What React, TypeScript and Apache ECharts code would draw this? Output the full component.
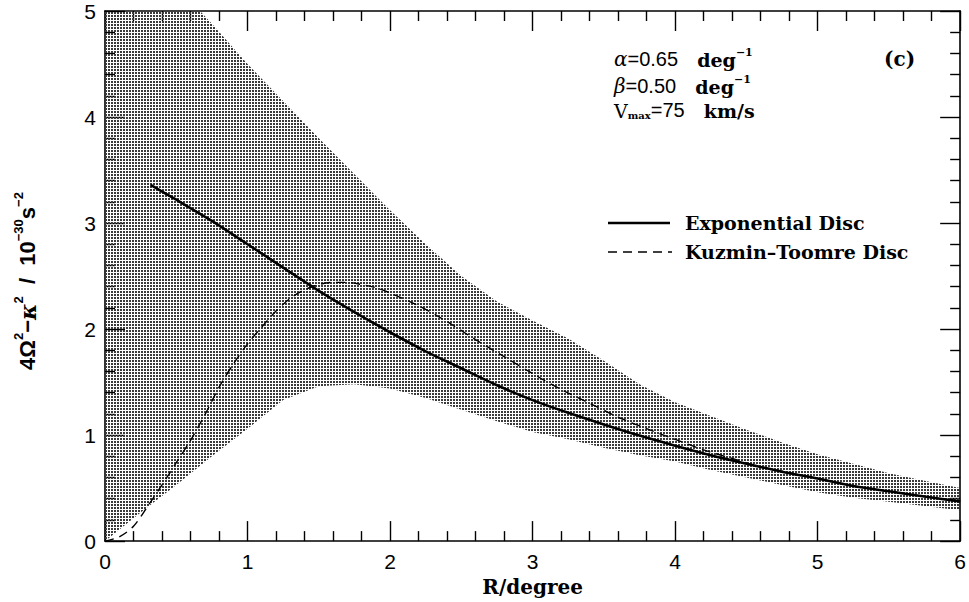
import React, { useEffect, useRef } from "react";
import * as echarts from "echarts";

// ---- data ----
const xTicks = [0, 1, 2, 3, 4, 5, 6];
const yTicks = [0, 1, 2, 3, 4, 5];

const bandX = [0, 0.25, 0.5, 0.75, 1.0, 1.25, 1.5, 1.75, 2.0, 2.25, 2.5, 2.75, 3.0, 3.25, 3.5, 3.75, 4.0, 4.25, 4.5, 4.75, 5.0, 5.25, 5.5, 5.75, 6.0];
const bandUpper = [5.95, 5.6, 5.24, 4.88, 4.5, 4.15, 3.8, 3.46, 3.12, 2.8, 2.5, 2.26, 2.08, 1.91, 1.7, 1.48, 1.31, 1.18, 1.05, 0.93, 0.82, 0.73, 0.64, 0.57, 0.5];
const bandLower = [0, 0.27, 0.53, 0.8, 1.06, 1.33, 1.46, 1.48, 1.44, 1.35, 1.24, 1.13, 1.03, 0.96, 0.88, 0.81, 0.75, 0.67, 0.6, 0.53, 0.46, 0.41, 0.37, 0.33, 0.29];

const expX = [0.32, 0.5, 0.75, 1.0, 1.25, 1.5, 1.75, 2.0, 2.25, 2.5, 2.75, 3.0, 3.25, 3.5, 3.75, 4.0, 4.25, 4.5, 4.75, 5.0, 5.25, 5.5, 5.75, 6.0];
const expY = [3.36, 3.22, 3.02, 2.8, 2.58, 2.36, 2.16, 1.97, 1.79, 1.63, 1.47, 1.33, 1.21, 1.1, 0.995, 0.9, 0.81, 0.73, 0.655, 0.59, 0.52, 0.47, 0.42, 0.375];

const kuzX = [0, 0.1, 0.2, 0.3, 0.4, 0.5, 0.6, 0.7, 0.8, 0.9, 1.0, 1.1, 1.2, 1.3, 1.4, 1.5, 1.6, 1.7, 1.8, 1.9, 2.0, 2.2, 2.4, 2.6, 2.8, 3.0, 3.2, 3.4, 3.6, 3.8, 4.0, 4.2, 4.4, 4.6, 4.8, 5.0, 5.25, 5.5, 5.75, 6.0];
const kuzY = [0.0, 0.04, 0.14, 0.33, 0.53, 0.74, 0.95, 1.19, 1.45, 1.67, 1.86, 2.02, 2.17, 2.29, 2.37, 2.42, 2.44, 2.44, 2.42, 2.39, 2.34, 2.22, 2.07, 1.9, 1.74, 1.58, 1.43, 1.3, 1.17, 1.06, 0.96, 0.86, 0.78, 0.7, 0.645, 0.59, 0.52, 0.47, 0.42, 0.375];

const seriesNames = ["Exponential Disc", "Kuzmin\u2013Toomre Disc"];

const SERIF = "'DejaVu Serif', 'Liberation Serif', serif";
const SANS = "'Liberation Sans', Arial, sans-serif";

function makePattern(): HTMLCanvasElement {
  const c = document.createElement("canvas");
  c.width = 3;
  c.height = 3;
  const ctx = c.getContext("2d")!;
  ctx.fillStyle = "#3a3a3a";
  ctx.fillRect(0, 0, 2, 2);
  return c;
}

export default function App() {
  const ref = useRef<HTMLDivElement>(null);
  useEffect(() => {
    if (!ref.current) return;
    const chart = echarts.init(ref.current, undefined, { renderer: "svg" });
    const pattern = makePattern();

    const axisCommon = {
      type: "value" as const,
      axisLine: { show: true, onZero: false, lineStyle: { color: "#000", width: 1.6 } },
      axisTick: { show: true, inside: true, length: 20, lineStyle: { color: "#000", width: 1.4 } },
      minorTick: { show: true, splitNumber: 5, length: 10, lineStyle: { color: "#000", width: 1.4 } },
      splitLine: { show: false },
      minorSplitLine: { show: false },
    };

    const annRich = {
      it: { fontFamily: SERIF, fontStyle: "italic", fontSize: 20, lineHeight: 22, verticalAlign: "bottom" },
      s: { fontFamily: SANS, fontSize: 20, lineHeight: 22, verticalAlign: "bottom" },
      b: { fontFamily: SERIF, fontWeight: "bold", fontSize: 19, lineHeight: 22, verticalAlign: "bottom", padding: [0, 0, 0, 8] },
      v: { fontFamily: SERIF, fontSize: 19, lineHeight: 22, verticalAlign: "bottom" },
      sub: { fontFamily: SERIF, fontWeight: "bold", fontSize: 10, lineHeight: 10, verticalAlign: "bottom" },
      sup: { fontFamily: SERIF, fontWeight: "bold", fontSize: 11, lineHeight: 11, verticalAlign: "top" },
    };

    const option: any = {
      animation: false,
      backgroundColor: "#fff",
      grid: { left: 105, right: 1, top: 11, bottom: 59, containLabel: false },
      xAxis: [
        {
          ...axisCommon,
          position: "bottom",
          min: xTicks[0],
          max: xTicks[xTicks.length - 1],
          interval: 1,
          axisLabel: { show: true, margin: 10, color: "#000", fontFamily: SANS, fontSize: 21, showMaxLabel: true },
          name: "R/degree",
          nameLocation: "middle",
          nameGap: 33,
          nameTextStyle: { color: "#000", fontFamily: SERIF, fontWeight: "bold", fontSize: 20 },
        },
        {
          ...axisCommon,
          position: "top",
          min: xTicks[0],
          max: xTicks[xTicks.length - 1],
          interval: 1,
          axisLabel: { show: false },
        },
      ],
      yAxis: [
        {
          ...axisCommon,
          position: "left",
          min: yTicks[0],
          max: yTicks[yTicks.length - 1],
          interval: 1,
          axisLabel: { show: true, margin: 9, color: "#000", fontFamily: SANS, fontSize: 21 },
        },
        {
          ...axisCommon,
          position: "right",
          min: yTicks[0],
          max: yTicks[yTicks.length - 1],
          interval: 1,
          axisLabel: { show: false },
        },
      ],
      series: [
        {
          name: "band",
          type: "custom",
          silent: true,
          z: 1,
          data: [[bandX[0], bandLower[0]]],
          renderItem: (params: any, api: any) => {
            const pts: number[][] = [];
            for (let i = 0; i < bandX.length; i++) pts.push(api.coord([bandX[i], bandUpper[i]]));
            for (let i = bandX.length - 1; i >= 0; i--) pts.push(api.coord([bandX[i], bandLower[i]]));
            const cs = params.coordSys;
            return {
              type: "polygon",
              shape: { points: pts },
              style: { fill: { image: pattern, repeat: "repeat" }, stroke: "none" },
              clipPath: { type: "rect", shape: { x: cs.x, y: cs.y, width: cs.width, height: cs.height } },
            };
          },
        },
        {
          name: seriesNames[0],
          type: "line",
          data: expX.map((x, i) => [x, expY[i]]),
          symbol: "none",
          smooth: 0.3,
          lineStyle: { color: "#000", width: 2.6, type: "solid" },
          itemStyle: { color: "#000" },
          z: 3,
        },
        {
          name: seriesNames[1],
          type: "line",
          data: kuzX.map((x, i) => [x, kuzY[i]]),
          symbol: "none",
          smooth: 0.3,
          lineStyle: { color: "#000", width: 1.4, type: [9, 6] },
          itemStyle: { color: "#000" },
          z: 3,
        },
      ],
      graphic: [
        // legend
        { type: "line", shape: { x1: 608, y1: 223, x2: 670, y2: 223 }, style: { stroke: "#000", lineWidth: 2.6 } },
        { type: "line", shape: { x1: 608, y1: 252, x2: 672, y2: 252 }, style: { stroke: "#000", lineWidth: 1.4, lineDash: [9, 6] } },
        {
          type: "text", x: 685, y: 223,
          style: { text: seriesNames[0], fontFamily: SERIF, fontWeight: "bold", fontSize: 19, fill: "#000", verticalAlign: "middle" },
        },
        {
          type: "text", x: 685, y: 252,
          style: { text: seriesNames[1], fontFamily: SERIF, fontWeight: "bold", fontSize: 19, fill: "#000", verticalAlign: "middle" },
        },
        // annotations
        {
          type: "text", left: 614, top: 47,
          style: { text: "{it|\u03b1}{s|=0.65  }{b|deg}{sup|\u22121}", rich: annRich, fill: "#000" },
        },
        {
          type: "text", left: 614, top: 74,
          style: { text: "{it|\u03b2}{s|=0.50  }{b|deg}{sup|\u22121}", rich: annRich, fill: "#000" },
        },
        {
          type: "text", left: 614, top: 100,
          style: { text: "{v|V}{sub|max}{s|=75  }{b|km/s}", rich: annRich, fill: "#000" },
        },
        {
          type: "text", left: 884, top: 49,
          style: { text: "(c)", fontFamily: SERIF, fontWeight: "bold", fontSize: 20, fill: "#000" },
        },
        // y-axis title
        {
          type: "text",
          x: 25,
          y: 281,
          rotation: Math.PI / 2,
          style: {
            text: "{n|4\u03a9}{sup|2}{n|\u2212}{k|\u03ba}{sup|2}{n|  /  10}{sup|\u221230}{n|s}{sup|\u22122}",
            align: "center",
            verticalAlign: "middle",
            rich: {
              n: { fontFamily: SANS, fontWeight: "bold", fontSize: 22, lineHeight: 27, verticalAlign: "bottom" },
              k: { fontFamily: SERIF, fontStyle: "italic", fontWeight: "bold", fontSize: 22, lineHeight: 27, verticalAlign: "bottom" },
              sup: { fontFamily: SANS, fontWeight: "bold", fontSize: 13, lineHeight: 13, verticalAlign: "top" },
            },
            fill: "#000",
          },
        },
      ],
    };
    chart.setOption(option);
    return () => chart.dispose();
  }, []);
  return (
    <div
      ref={ref}
      style={{ position: "fixed", left: 0, top: 0, width: 969, height: 602, background: "#fff" }}
    />
  );
}
